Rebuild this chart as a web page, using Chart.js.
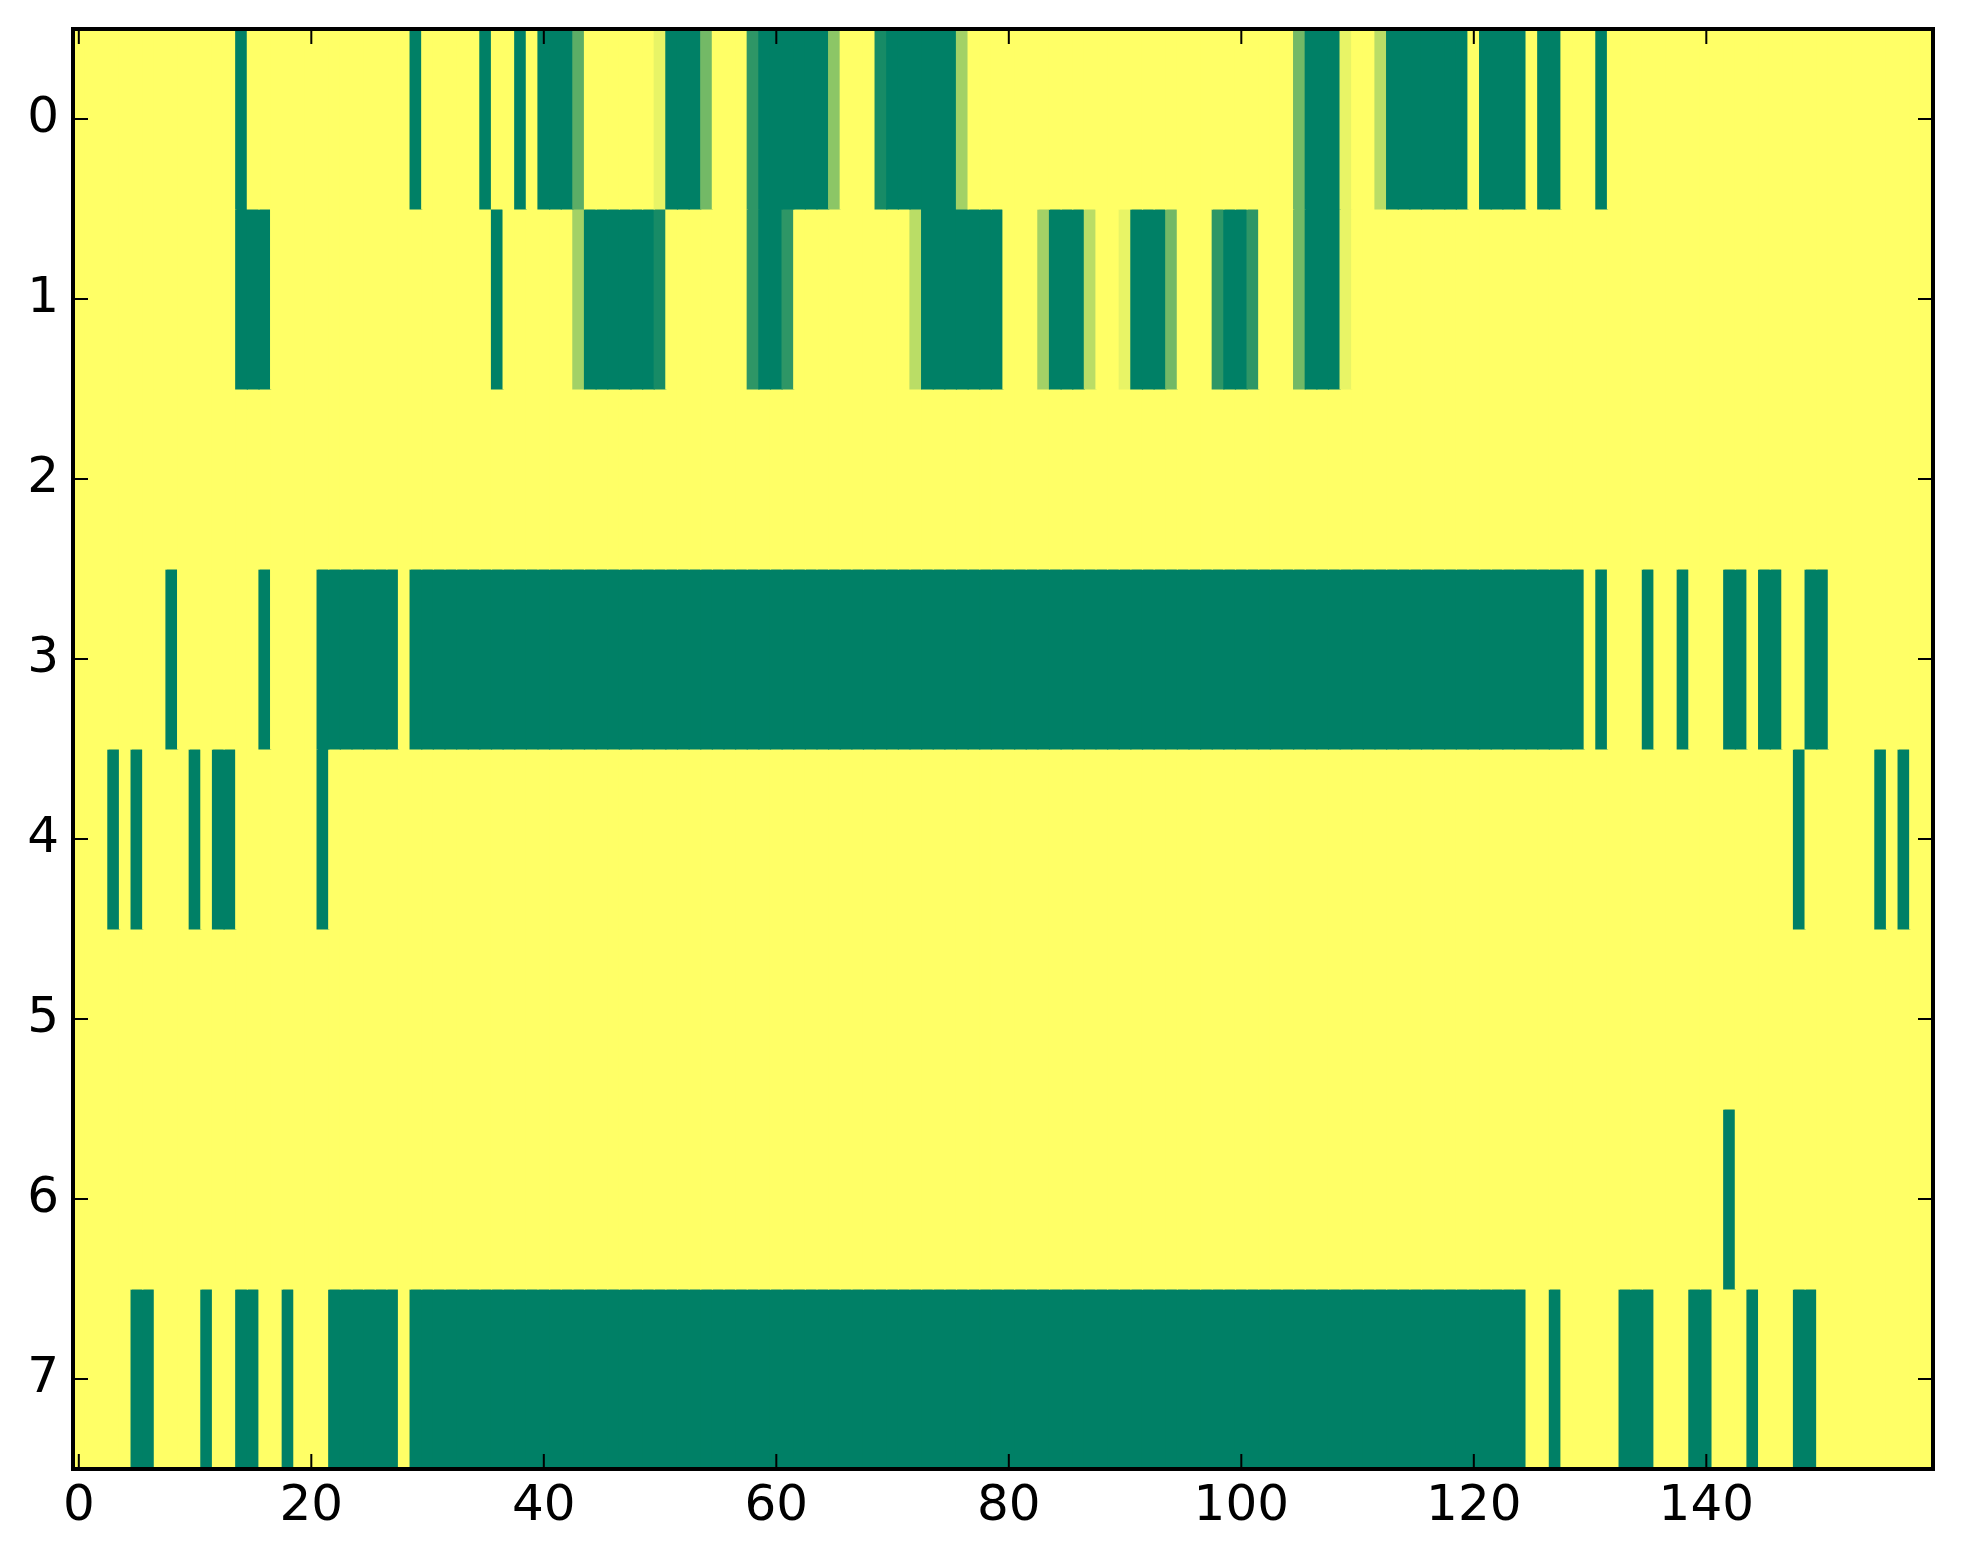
<!DOCTYPE html>
<html>
<head>
<meta charset="utf-8">
<script src="https://cdn.jsdelivr.net/npm/chart.js@4.4.1/dist/chart.umd.min.js"></script>
<style>
  html, body { margin: 0; padding: 0; background: #ffffff; }
  #wrap { width: 1963px; height: 1564px; }
</style>
</head>
<body>
<div id="wrap"><canvas id="heatChart" width="1963" height="1564"></canvas></div>
<script>
// values per row (0 = green, 1 = yellow), one entry per column 0..159
const row0 = [
  1,1,1,1,1,1,1,1,1,1,1,1,1,1,0,1,1,1,1,1,
  1,1,1,1,1,1,1,1,1,0,1,1,1,1,1,0,1,1,0,1,
  0,0,0,0.36,1,1,1,1,1,1,0.91,0,0,0,0.45,1,1,1,0.18,0,
  0,0,0,0,0,0.55,1,1,1,0.09,0,0,0,0,0,0,0.64,1,1,1,
  1,1,1,1,1,1,1,1,1,1,1,1,1,1,1,1,1,1,1,1,
  1,1,1,1,1,0.45,0,0,0,0.91,1,1,0.73,0,0,0,0,0,0,0,
  1,0,0,0,0,1,0,0,1,1,1,0,1,1,1,1,1,1,1,1,
  1,1,1,1,1,1,1,1,1,1,1,1,1,1,1,1,1,1,1,1
];
const row1 = [
  1,1,1,1,1,1,1,1,1,1,1,1,1,1,0,0,0,1,1,1,
  1,1,1,1,1,1,1,1,1,1,1,1,1,1,1,1,0,1,1,1,
  1,1,1,0.64,0,0,0,0,0,0,0.09,1,1,1,1,1,1,1,0.18,0,
  0,0.18,1,1,1,1,1,1,1,1,1,1,0.73,0,0,0,0,0,0,0,
  1,1,1,0.64,0,0,0,0.73,1,1,0.91,0,0,0,0.45,1,1,1,0.18,0,
  0,0.18,1,1,1,0.45,0,0,0,0.91,1,1,1,1,1,1,1,1,1,1,
  1,1,1,1,1,1,1,1,1,1,1,1,1,1,1,1,1,1,1,1,
  1,1,1,1,1,1,1,1,1,1,1,1,1,1,1,1,1,1,1,1
];
const row2 = [
  1,1,1,1,1,1,1,1,1,1,1,1,1,1,1,1,1,1,1,1,
  1,1,1,1,1,1,1,1,1,1,1,1,1,1,1,1,1,1,1,1,
  1,1,1,1,1,1,1,1,1,1,1,1,1,1,1,1,1,1,1,1,
  1,1,1,1,1,1,1,1,1,1,1,1,1,1,1,1,1,1,1,1,
  1,1,1,1,1,1,1,1,1,1,1,1,1,1,1,1,1,1,1,1,
  1,1,1,1,1,1,1,1,1,1,1,1,1,1,1,1,1,1,1,1,
  1,1,1,1,1,1,1,1,1,1,1,1,1,1,1,1,1,1,1,1,
  1,1,1,1,1,1,1,1,1,1,1,1,1,1,1,1,1,1,1,1
];
const row3 = [
  1,1,1,1,1,1,1,1,0,1,1,1,1,1,1,1,0,1,1,1,
  1,0,0,0,0,0,0,0,1,0,0,0,0,0,0,0,0,0,0,0,
  0,0,0,0,0,0,0,0,0,0,0,0,0,0,0,0,0,0,0,0,
  0,0,0,0,0,0,0,0,0,0,0,0,0,0,0,0,0,0,0,0,
  0,0,0,0,0,0,0,0,0,0,0,0,0,0,0,0,0,0,0,0,
  0,0,0,0,0,0,0,0,0,0,0,0,0,0,0,0,0,0,0,0,
  0,0,0,0,0,0,0,0,0,0,1,0,1,1,1,0,1,1,0,1,
  1,1,0,0,1,0,0,1,1,0,0,1,1,1,1,1,1,1,1,1
];
const row4 = [
  1,1,1,0,1,0,1,1,1,1,0,1,0,0,1,1,1,1,1,1,
  1,0,1,1,1,1,1,1,1,1,1,1,1,1,1,1,1,1,1,1,
  1,1,1,1,1,1,1,1,1,1,1,1,1,1,1,1,1,1,1,1,
  1,1,1,1,1,1,1,1,1,1,1,1,1,1,1,1,1,1,1,1,
  1,1,1,1,1,1,1,1,1,1,1,1,1,1,1,1,1,1,1,1,
  1,1,1,1,1,1,1,1,1,1,1,1,1,1,1,1,1,1,1,1,
  1,1,1,1,1,1,1,1,1,1,1,1,1,1,1,1,1,1,1,1,
  1,1,1,1,1,1,1,1,0,1,1,1,1,1,1,0,1,0,1,1
];
const row5 = [
  1,1,1,1,1,1,1,1,1,1,1,1,1,1,1,1,1,1,1,1,
  1,1,1,1,1,1,1,1,1,1,1,1,1,1,1,1,1,1,1,1,
  1,1,1,1,1,1,1,1,1,1,1,1,1,1,1,1,1,1,1,1,
  1,1,1,1,1,1,1,1,1,1,1,1,1,1,1,1,1,1,1,1,
  1,1,1,1,1,1,1,1,1,1,1,1,1,1,1,1,1,1,1,1,
  1,1,1,1,1,1,1,1,1,1,1,1,1,1,1,1,1,1,1,1,
  1,1,1,1,1,1,1,1,1,1,1,1,1,1,1,1,1,1,1,1,
  1,1,1,1,1,1,1,1,1,1,1,1,1,1,1,1,1,1,1,1
];
const row6 = [
  1,1,1,1,1,1,1,1,1,1,1,1,1,1,1,1,1,1,1,1,
  1,1,1,1,1,1,1,1,1,1,1,1,1,1,1,1,1,1,1,1,
  1,1,1,1,1,1,1,1,1,1,1,1,1,1,1,1,1,1,1,1,
  1,1,1,1,1,1,1,1,1,1,1,1,1,1,1,1,1,1,1,1,
  1,1,1,1,1,1,1,1,1,1,1,1,1,1,1,1,1,1,1,1,
  1,1,1,1,1,1,1,1,1,1,1,1,1,1,1,1,1,1,1,1,
  1,1,1,1,1,1,1,1,1,1,1,1,1,1,1,1,1,1,1,1,
  1,1,0,1,1,1,1,1,1,1,1,1,1,1,1,1,1,1,1,1
];
const row7 = [
  1,1,1,1,1,0,0,1,1,1,1,0,1,1,0,0,1,1,0,1,
  1,1,0,0,0,0,0,0,1,0,0,0,0,0,0,0,0,0,0,0,
  0,0,0,0,0,0,0,0,0,0,0,0,0,0,0,0,0,0,0,0,
  0,0,0,0,0,0,0,0,0,0,0,0,0,0,0,0,0,0,0,0,
  0,0,0,0,0,0,0,0,0,0,0,0,0,0,0,0,0,0,0,0,
  0,0,0,0,0,0,0,0,0,0,0,0,0,0,0,0,0,0,0,0,
  0,0,0,0,0,1,1,0,1,1,1,1,1,0,0,0,1,1,1,0,
  0,1,1,1,0,1,1,1,0,0,1,1,1,1,1,1,1,1,1,1
];

const rows = [row0, row1, row2, row3, row4, row5, row6, row7];
const yTicks = [0, 1, 2, 3, 4, 5, 6, 7];
const xTicks = [0, 20, 40, 60, 80, 100, 120, 140];

// column categories 0..159
const columns = row0.map((v, i) => String(i));

// matplotlib "summer" colormap
function summer(v) {
    const r = Math.round(255 * v);
    const g = Math.round(255 * (0.5 + 0.5 * v));
    return 'rgb(' + r + ',' + g + ',102)';
}

const datasets = rows.map((vals, r) => ({
    label: 'row ' + r,
    data: vals.map(() => [r - 0.5, r + 0.5]),
    backgroundColor: vals.map(summer),
    borderWidth: 0,
    barPercentage: 1,
    categoryPercentage: 1,
    grouped: false,
    inflateAmount: 0.6
}));

// inward ticks on all four sides plus the axes frame
const framePlugin = {
    id: 'frame',
    afterDraw(chart) {
        const ctx = chart.ctx;
        const a = chart.chartArea;
        const xs = chart.scales.x;
        const ys = chart.scales.y;
        const len = 15;
        ctx.save();
        ctx.strokeStyle = '#000';
        ctx.lineWidth = 2;
        ctx.beginPath();
        xTicks.forEach(t => {
            const px = xs.getPixelForValue(t);
            ctx.moveTo(px, a.bottom); ctx.lineTo(px, a.bottom - len);
            ctx.moveTo(px, a.top); ctx.lineTo(px, a.top + len);
        });
        yTicks.forEach(t => {
            const py = ys.getPixelForValue(t);
            ctx.moveTo(a.left, py); ctx.lineTo(a.left + len, py);
            ctx.moveTo(a.right, py); ctx.lineTo(a.right - len, py);
        });
        ctx.stroke();
        ctx.lineWidth = 4;
        ctx.strokeRect(a.left, a.top, a.right - a.left, a.bottom - a.top);
        ctx.restore();
    }
};

Chart.defaults.font.family = '"DejaVu Sans", sans-serif';
Chart.defaults.font.size = 50;
Chart.defaults.color = '#000';

new Chart(document.getElementById('heatChart').getContext('2d'), {
    type: 'bar',
    data: { labels: columns, datasets: datasets },
    options: {
        responsive: false,
        animation: false,
        devicePixelRatio: 1,
        layout: { padding: { top: 29, right: 30, left: 0, bottom: 0 } },
        plugins: {
            legend: { display: false },
            tooltip: { enabled: false }
        },
        scales: {
            x: {
                type: 'category',
                offset: true,
                grid: { display: false, drawTicks: false },
                border: { display: false },
                ticks: { autoSkip: false, maxRotation: 0, padding: 8 },
                afterBuildTicks: s => { s.ticks = xTicks.map(v => ({ value: v })); },
                afterFit: s => {
                    s.height = 95;
                    s.paddingLeft = 0; s.paddingRight = 0;
                    s.paddingTop = 0; s.paddingBottom = 0;
                }
            },
            y: {
                type: 'linear',
                reverse: true,
                min: -0.5,
                max: 7.5,
                grid: { display: false, drawTicks: false },
                border: { display: false },
                ticks: { padding: 14 },
                afterBuildTicks: s => { s.ticks = yTicks.map(v => ({ value: v })); },
                afterFit: s => {
                    s.width = 73;
                    s.paddingLeft = 0; s.paddingRight = 0;
                    s.paddingTop = 0; s.paddingBottom = 0;
                }
            }
        }
    },
    plugins: [framePlugin]
});
</script>
</body>
</html>
